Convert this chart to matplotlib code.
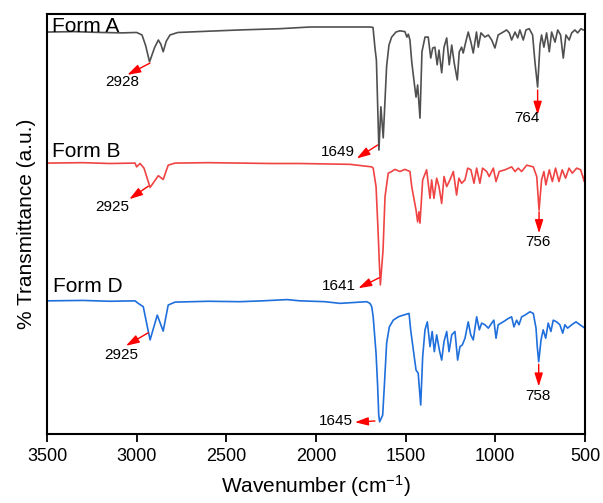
import matplotlib
matplotlib.use("Agg")
import matplotlib.pyplot as plt

plt.rcParams['font.family'] = ['Liberation Sans', 'DejaVu Sans']
plt.rcParams['mathtext.default'] = 'regular'

# FTIR spectra, offset for display (a.u.)
form_a_wn = [3500, 3350, 3200, 3080, 3000, 2970, 2950, 2928, 2900, 2879, 2865, 2852, 2835, 2814,
             2770, 2600, 2424, 2200, 2033, 1850, 1700, 1682, 1671, 1663, 1649, 1638, 1625, 1606,
             1593, 1578, 1554, 1532, 1504, 1493, 1485, 1476, 1466, 1454, 1442, 1433, 1420, 1409,
             1392, 1374, 1360, 1349, 1337, 1324, 1314, 1299, 1286, 1271, 1257, 1243, 1229, 1212,
             1201, 1188, 1179, 1165, 1151, 1136, 1123, 1105, 1095, 1080, 1058, 1039, 1020, 1002,
             984, 956, 937, 922, 909, 890, 875, 863, 844, 829, 811, 792, 779, 764, 751, 742, 729,
             714, 699, 686, 667, 652, 636, 621, 606, 588, 574, 556, 541, 522, 510, 500]
form_a_t = [95.7, 95.8, 95.6, 95.5, 95.6, 95.0, 92.5, 88.6, 92.0, 93.8, 92.8, 91.0, 93.5, 95.0,
            95.6, 95.9, 96.2, 96.5, 96.9, 96.9, 96.9, 96.8, 91.9, 89.0, 67.6, 77.9, 70.5, 87.6,
            92.6, 94.5, 95.7, 96.0, 95.8, 94.5, 95.2, 93.8, 88.6, 84.3, 80.2, 83.1, 75.2, 91.0,
            94.5, 94.5, 89.5, 91.9, 92.1, 87.9, 91.4, 86.0, 92.1, 94.3, 87.9, 92.6, 88.3, 84.3,
            91.0, 92.1, 90.7, 93.3, 95.7, 93.3, 90.7, 95.7, 92.1, 95.5, 94.5, 95.0, 93.8, 91.9,
            95.0, 95.7, 96.2, 95.5, 93.8, 95.7, 94.3, 96.2, 93.8, 96.2, 96.5, 95.0, 88.6, 82.6,
            92.6, 95.0, 92.1, 95.5, 91.0, 95.7, 93.3, 96.2, 95.0, 89.5, 95.0, 93.8, 95.5, 96.2,
            95.5, 96.5, 96.2, 96.2]

form_b_wn = [3500, 3300, 3150, 3009, 3000, 2981, 2959, 2925, 2879, 2852, 2824, 2786, 2600, 2424,
             2250, 2089, 1950, 1810, 1689, 1681, 1665, 1654, 1646, 1641, 1626, 1615, 1597, 1578,
             1560, 1532, 1504, 1476, 1466, 1442, 1433, 1426, 1420, 1405, 1383, 1364, 1355, 1342,
             1327, 1314, 1299, 1286, 1271, 1253, 1234, 1216, 1203, 1188, 1169, 1154, 1136, 1119,
             1104, 1086, 1071, 1048, 1034, 1011, 996, 978, 946, 909, 890, 872, 853, 825, 788, 769,
             756, 742, 729, 718, 699, 682, 664, 645, 627, 608, 589, 571, 546, 524, 504, 500]
form_b_t = [64.5, 64.6, 64.4, 64.5, 63.6, 64.4, 63.3, 58.7, 61.5, 60.6, 64.0, 64.5, 64.6, 64.5,
            64.4, 64.4, 64.3, 64.2, 63.6, 63.3, 58.9, 48.6, 40.0, 35.5, 43.8, 56.5, 62.1, 62.5,
            63.0, 62.5, 63.0, 62.5, 58.9, 53.3, 50.5, 52.9, 50.2, 60.5, 62.9, 56.1, 60.5, 56.1,
            60.9, 58.9, 54.9, 61.3, 58.9, 60.5, 62.5, 56.9, 60.9, 59.7, 60.5, 63.3, 62.9, 59.7,
            63.3, 59.7, 63.3, 62.5, 61.3, 63.3, 60.1, 62.5, 62.9, 63.6, 62.5, 63.3, 62.5, 64.0,
            63.6, 61.3, 53.3, 60.5, 62.5, 59.3, 62.9, 60.1, 63.3, 60.1, 62.9, 60.9, 63.3, 62.1,
            63.3, 62.9, 60.1, 62.4]

form_d_wn = [3500, 3300, 3150, 3009, 2991, 2963, 2945, 2925, 2885, 2852, 2824, 2786, 2600, 2424,
             2300, 2162, 2089, 1950, 1866, 1717, 1699, 1689, 1681, 1665, 1656, 1650, 1645, 1628,
             1619, 1606, 1591, 1569, 1541, 1513, 1481, 1472, 1457, 1442, 1430, 1416, 1405, 1392,
             1379, 1364, 1352, 1340, 1327, 1312, 1299, 1286, 1271, 1258, 1243, 1225, 1210, 1197,
             1184, 1169, 1151, 1137, 1123, 1104, 1089, 1076, 1058, 1039, 1020, 1008, 996, 984, 956,
             928, 909, 896, 881, 868, 853, 835, 807, 788, 773, 766, 758, 745, 733, 719, 705, 690,
             677, 658, 640, 624, 612, 597, 574, 550, 528, 500]
form_d_t = [31.7, 31.8, 31.6, 31.7, 31.1, 30.3, 26.5, 22.4, 28.3, 24.5, 30.7, 31.4, 31.6, 31.5,
            31.7, 32.0, 31.7, 31.5, 31.1, 31.5, 31.1, 30.3, 27.9, 19.2, 11.3, 4.5, 2.9, 4.5,
            11.3, 21.6, 25.5, 27.1, 27.9, 28.3, 28.7, 24.8, 20.0, 15.2, 14.5, 6.9, 18.4, 24.8,
            26.7, 20.8, 24.4, 19.6, 23.6, 20.0, 17.6, 22.0, 24.4, 19.6, 23.6, 24.4, 17.6, 20.8,
            21.2, 22.8, 26.7, 23.6, 22.4, 27.9, 24.8, 26.4, 26.0, 25.2, 26.4, 27.1, 22.8, 26.0, 26.7,
            27.5, 27.9, 25.5, 27.1, 26.0, 27.9, 28.3, 29.1, 28.7, 25.2, 20.8, 17.2, 22.4, 24.8, 22.8,
            26.4, 24.4, 27.1, 26.7, 26.0, 24.0, 26.0, 25.2, 26.0, 26.7, 26.0, 25.2]

form_names = ['Form A', 'Form B', 'Form D']
form_colors = ['#505050', '#f04444', '#1f6fdc']

# (label, arrow tail, arrow head, text position) in data coordinates
peak_labels = [
    ('2928', (2926, 88.3), (3052, 85.5), (3083, 83.7)),
    ('1649', (1656, 68.8), (1773, 65.6), (1877, 67.1)),
    ('764', (764, 81.9), (764, 76.0), (823, 75.2)),
    ('2925', (2935, 59.0), (3041, 55.9), (3136, 54.0)),
    ('1641', (1647, 37.2), (1764, 34.7), (1875, 35.2)),
    ('756', (756, 52.9), (756, 47.8), (763, 45.6)),
    ('2925', (2935, 24.1), (3060, 21.0), (3086, 18.8)),
    ('1645', (1671, 3.1), (1783, 2.8), (1891, 3.2)),
    ('758', (758, 16.6), (758, 11.3), (764, 9.1)),
]
name_pos = [(3474, 95.8), (3474, 66.0), (3468, 33.9)]

fig = plt.figure(figsize=(6.03, 5.03), dpi=100)
ax = fig.add_axes([0.0779, 0.1372, 0.8922, 0.835])

spectra = [(form_a_wn, form_a_t), (form_b_wn, form_b_t), (form_d_wn, form_d_t)]
for (wn, t), color in zip(spectra, form_colors):
    ax.plot(wn, t, color=color, lw=1.2)

for name, (x, y) in zip(form_names, name_pos):
    ax.text(x, y, name, fontsize=15, ha='left', va='baseline')

for label, tail, head, txt in peak_labels:
    ax.annotate('', xy=head, xytext=tail,
                arrowprops=dict(arrowstyle='-|>,head_length=0.8,head_width=0.25',
                                color='red', lw=1, shrinkA=0, shrinkB=0,
                                mutation_scale=10))
    ax.text(txt[0], txt[1], label, fontsize=11, ha='center', va='center')

ax.set_xlim(3500, 500)
ax.set_ylim(0, 100)
ax.set_xticks([3500, 3000, 2500, 2000, 1500, 1000, 500])
ax.set_yticks([])
ax.tick_params(axis='x', direction='out', length=6, width=1.3, labelsize=13, pad=4)
for sp in ax.spines.values():
    sp.set_linewidth(1.5)

ax.set_xlabel('Wavenumber (cm$^{-1}$)', fontsize=15, labelpad=6)
ax.set_ylabel('% Transmittance (a.u.)', fontsize=15, labelpad=8)

fig.savefig('out.png', dpi=100)
